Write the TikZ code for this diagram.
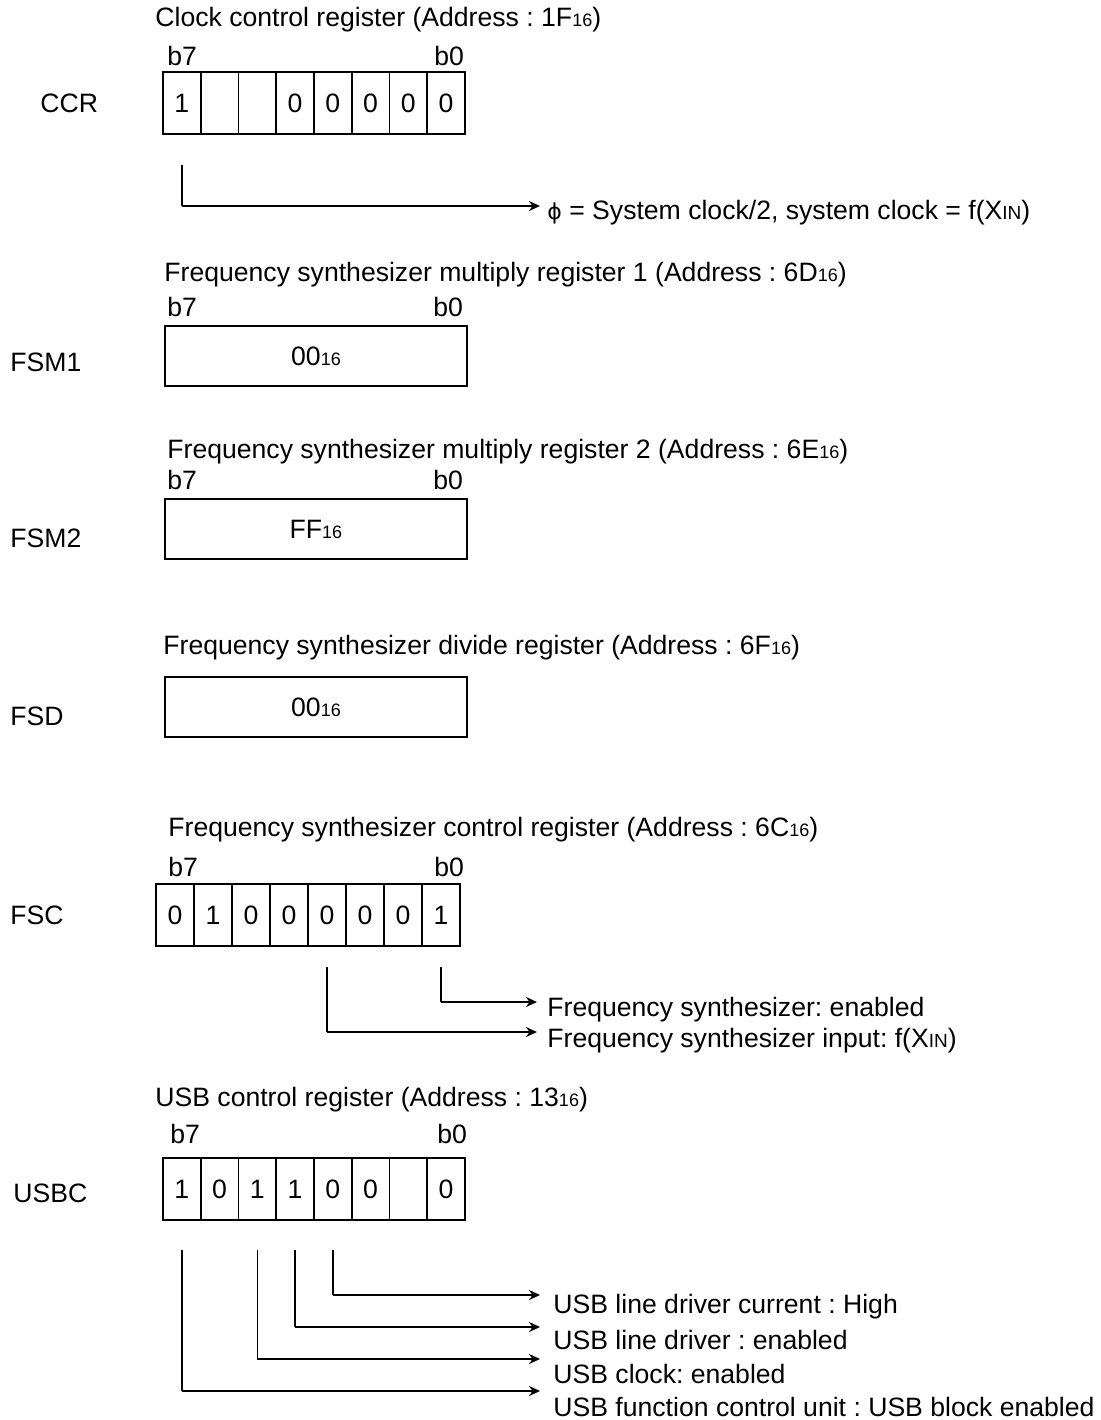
\documentclass[tikz,border=0pt]{standalone}
\usepackage{fontspec}
\setmainfont{Liberation Sans}
\newfontfamily\dvfont{DejaVu Sans}
\usetikzlibrary{arrows.meta}
\frenchspacing
\newcommand{\hx}[1]{{\fontsize{9pt}{10pt}\selectfont #1}}
\newcommand{\xin}{X{\fontsize{9.5pt}{10pt}\selectfont IN}}
\begin{document}
\begin{tikzpicture}[x=0.5pt,y=-0.5pt,
  txt/.style={inner sep=0pt, anchor=west, font=\fontsize{13.3pt}{15pt}\selectfont},
  cell/.style={draw, line width=0.9pt, minimum width=18.9pt, minimum height=31pt, inner sep=0pt, font=\fontsize{13.3pt}{15pt}\selectfont},
  wbox/.style={draw, line width=0.9pt, minimum width=151pt, minimum height=30pt, inner sep=0pt, font=\fontsize{13.3pt}{15pt}\selectfont},
  vl/.style={line width=0.7pt},
  hl/.style={line width=1.2pt, -{Stealth[length=5.5pt,width=5pt]}}]
\useasboundingbox (0,0) rectangle (1100,1420);
\fill[white] (0,0) rectangle (1100,1420);

% ---------- CCR ----------
\node[txt] (tccr) at (155,20) {Clock control register (Address : 1F\hx{16})};
\node[txt] (b7a) at (167,56) {b7};
\node[txt] (b0a) at (434,56) {b0};
\node[txt] (lccr) at (40,103) {CCR};
\foreach \v [count=\i] in {1,{},{},0,0,0,0,0}
  \node[cell] (c\i) at ({163+37.75*(\i-0.5)},103) {\v};
\coordinate (ccrk) at (c1 |- 0,206);
\coordinate (ccre) at (540,206);
\draw[vl] (c1 |- 0,165) -- (ccrk);
\draw[hl] (ccrk) -- (ccre);
\node[txt] (tphi) at (547,213) {{\dvfont\fontsize{11pt}{13pt}\selectfont ϕ} = System clock/2, system clock = f(\xin)};

% ---------- FSM1 ----------
\node[txt] (tfsm1) at (164,275) {Frequency synthesizer multiply register 1 (Address : 6D\hx{16})};
\node[txt] (b7b) at (167,307) {b7};
\node[txt] (b0b) at (433,307) {b0};
\node[wbox] (fsm1) at (316,356) {00\hx{16}};
\node[txt] (lfsm1) at (10,362) {FSM1};

% ---------- FSM2 ----------
\node[txt] (tfsm2) at (167,452) {Frequency synthesizer multiply register 2 (Address : 6E\hx{16})};
\node[txt] (b7c) at (167,480) {b7};
\node[txt] (b0c) at (433,480) {b0};
\node[wbox] (fsm2) at (316,529) {FF\hx{16}};
\node[txt] (lfsm2) at (10,538) {FSM2};

% ---------- FSD ----------
\node[txt] (tfsd) at (163,648) {Frequency synthesizer divide register (Address : 6F\hx{16})};
\node[wbox] (fsd) at (316,707) {00\hx{16}};
\node[txt] (lfsd) at (10,716) {FSD};

% ---------- FSC ----------
\node[txt] (tfsc) at (168,830) {Frequency synthesizer control register (Address : 6C\hx{16})};
\node[txt] (b7d) at (168,867) {b7};
\node[txt] (b0d) at (434,867) {b0};
\node[txt] (lfsc) at (10,915) {FSC};
\foreach \v [count=\i] in {0,1,0,0,0,0,0,1}
  \node[cell] (f\i) at ({156+38*(\i-0.5)},915) {\v};
\coordinate (fk8) at (f8 |- 0,1002);
\coordinate (fe8) at (537,1002);
\coordinate (fk5) at (f5 |- 0,1032);
\coordinate (fe5) at (537,1032);
\draw[vl] (f8 |- 0,967) -- (fk8);
\draw[hl] (fk8) -- (fe8);
\draw[vl] (f5 |- 0,967) -- (fk5);
\draw[hl] (fk5) -- (fe5);
\node[txt] (tfe) at (547,1010) {Frequency synthesizer: enabled};
\node[txt] (tfi) at (547,1041) {Frequency synthesizer input: f(\xin)};

% ---------- USBC ----------
\node[txt] (tusb) at (155,1100) {USB control register (Address : 13\hx{16})};
\node[txt] (b7e) at (170,1134) {b7};
\node[txt] (b0e) at (437,1134) {b0};
\node[txt] (lusb) at (13,1193) {USBC};
\foreach \v [count=\i] in {1,0,1,1,0,0,{},0}
  \node[cell] (u\i) at ({163+37.75*(\i-0.5)},1189) {\v};
\coordinate (uk5) at (u5 |- 0,1295);
\coordinate (ue5) at (540,1295);
\coordinate (uk4) at (u4 |- 0,1327);
\coordinate (ue4) at (540,1327);
\coordinate (uk3) at (u3 |- 0,1359);
\coordinate (ue3) at (540,1359);
\coordinate (uk1) at (u1 |- 0,1391);
\coordinate (ue1) at (540,1391);
\draw[vl] (u5 |- 0,1250) -- (uk5);
\draw[hl] (uk5) -- (ue5);
\draw[vl] (u4 |- 0,1250) -- (uk4);
\draw[hl] (uk4) -- (ue4);
\draw[vl] (u3 |- 0,1250) -- (uk3);
\draw[hl] (uk3) -- (ue3);
\draw[vl] (u1 |- 0,1250) -- (uk1);
\draw[hl] (uk1) -- (ue1);
\node[txt] (tu5) at (553,1307) {USB line driver current : High};
\node[txt] (tu4) at (553,1340) {USB line driver : enabled};
\node[txt] (tu3) at (553,1374) {USB clock: enabled};
\node[txt] (tu1) at (553,1407) {USB function control unit : USB block enabled};
\end{tikzpicture}
\end{document}
